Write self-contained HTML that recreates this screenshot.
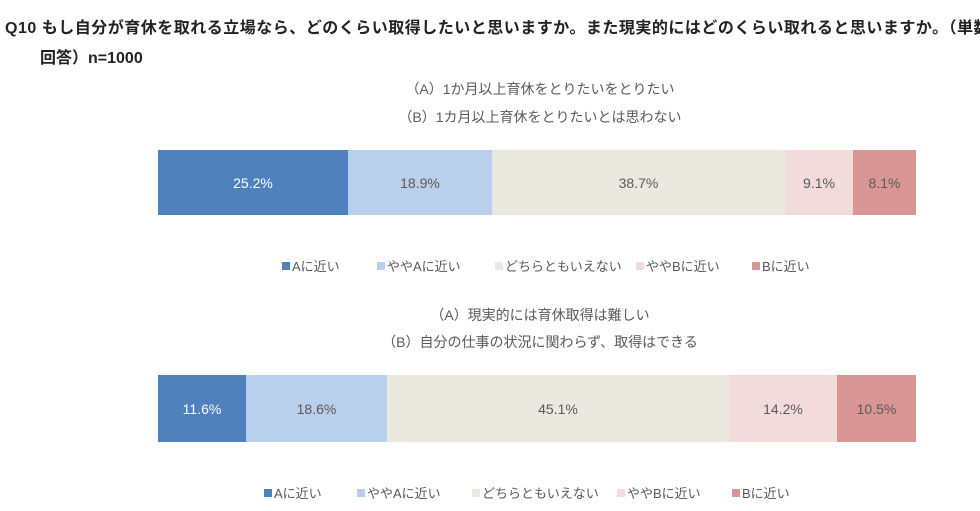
<!DOCTYPE html><html><head><meta charset="utf-8"><style>
body{margin:0;width:980px;height:511px;background:#fff;position:relative;overflow:hidden;font-family:"Liberation Sans","Noto Sans CJK JP",sans-serif}
.t{position:absolute;white-space:nowrap;font-weight:bold;font-size:16px;color:#222}
.s{position:absolute;white-space:nowrap;font-size:14px;color:#595959;transform:translateX(-50%)}
.bar{position:absolute;left:158px;width:758px;display:flex}
.bar div{height:100%;display:flex;align-items:center;justify-content:center;font-size:14px;color:#595959}
.lg{position:absolute;font-size:13px;color:#595959;white-space:nowrap}
.lg i{display:inline-block;width:8px;height:8px;margin-right:2px;vertical-align:1px}
</style></head><body>
<div class="t" style="left:5px;top:14px;letter-spacing:0.5px">Q10 もし自分が育休を取れる立場なら、どのくらい取得したいと思いますか。また現実的にはどのくらい取れると思いますか。（単数</div>
<div class="t" style="left:40px;top:44px">回答）n=1000</div>
<div class="s" style="left:540px;top:79px">（A）1か月以上育休をとりたいをとりたい</div>
<div class="s" style="left:540px;top:107px">（B）1カ月以上育休をとりたいとは思わない</div>
<div class="bar" style="top:150px;height:65px">
<div style="width:190px;background:#4f81bd;color:#fff">25.2%</div>
<div style="width:144px;background:#b9cfea">18.9%</div>
<div style="width:293px;background:#ebe9df">38.7%</div>
<div style="width:68px;background:#f2dcdb">9.1%</div>
<div style="width:63px;background:#d99694">8.1%</div></div>
<div class="lg" style="left:282px;top:256px"><i style="background:#4f81bd"></i>Aに近い</div>
<div class="lg" style="left:377px;top:256px"><i style="background:#b9cfea"></i>ややAに近い</div>
<div class="lg" style="left:495px;top:256px"><i style="background:#ebe9df"></i>どちらともいえない</div>
<div class="lg" style="left:636px;top:256px"><i style="background:#f2dcdb"></i>ややBに近い</div>
<div class="lg" style="left:752px;top:256px"><i style="background:#d99694"></i>Bに近い</div>
<div class="s" style="left:540px;top:305px">（A）現実的には育休取得は難しい</div>
<div class="s" style="left:540px;top:332px">（B）自分の仕事の状況に関わらず、取得はできる</div>
<div class="bar" style="top:375px;height:67px">
<div style="width:88px;background:#4f81bd;color:#fff">11.6%</div>
<div style="width:141px;background:#b9cfea">18.6%</div>
<div style="width:342px;background:#ebe9df">45.1%</div>
<div style="width:108px;background:#f2dcdb">14.2%</div>
<div style="width:79px;background:#d99694">10.5%</div></div>
<div class="lg" style="left:264px;top:483px"><i style="background:#4f81bd"></i>Aに近い</div>
<div class="lg" style="left:357px;top:483px"><i style="background:#b9cfea"></i>ややAに近い</div>
<div class="lg" style="left:472px;top:483px"><i style="background:#ebe9df"></i>どちらともいえない</div>
<div class="lg" style="left:617px;top:483px"><i style="background:#f2dcdb"></i>ややBに近い</div>
<div class="lg" style="left:732px;top:483px"><i style="background:#d99694"></i>Bに近い</div>
</body></html>
